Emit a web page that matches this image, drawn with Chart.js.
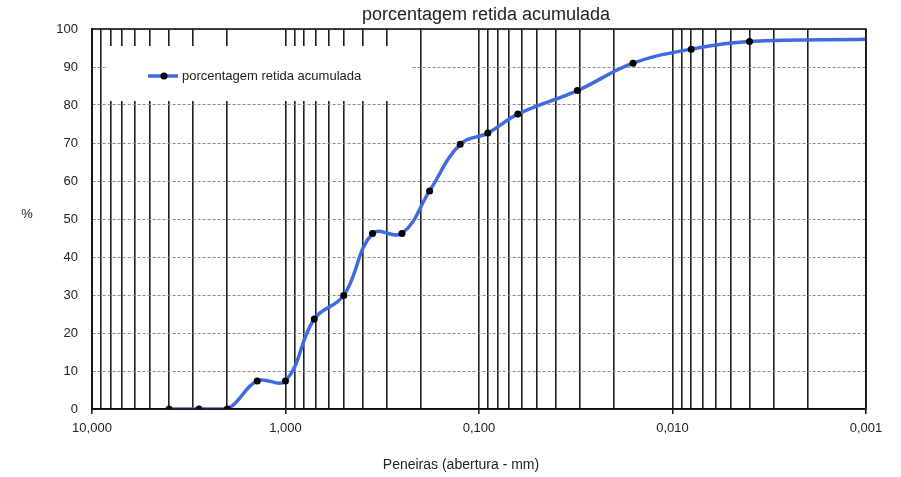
<!DOCTYPE html>
<html>
<head>
<meta charset="utf-8">
<script src="https://cdn.jsdelivr.net/npm/chart.js@4.4.0/dist/chart.umd.min.js"></script>
<style>
  html, body { margin: 0; padding: 0; background: #fff; }
  #wrap { width: 901px; height: 477px; }
</style>
</head>
<body>
<div id="wrap"><canvas id="granChart"></canvas></div>
<script>
const tituloGrafico = 'porcentagem retida acumulada';
const nomeSerie = 'porcentagem retida acumulada';
const tituloX = 'Peneiras (abertura - mm)';
const tituloY = '%';

// abertura das peneiras (mm) x porcentagem retida acumulada
const aberturas = [4.0, 2.8, 2.0, 1.4, 1.0, 0.71, 0.5, 0.355, 0.25, 0.18, 0.125, 0.09, 0.063, 0.031, 0.016, 0.008, 0.004, 0.001];
const retidaAcum = [0, 0, 0, 7.4, 7.4, 23.7, 29.9, 46.2, 46.2, 57.4, 69.7, 72.6, 77.6, 83.8, 91.0, 94.7, 96.7, 97.3];

// eixo x logaritmico
const decadas = [10, 1, 0.1, 0.01, 0.001];
const rotulosDecadas = ['10,000', '1,000', '0,100', '0,010', '0,001'];
const multiplicadores = [1, 2, 3, 4, 5, 6, 7, 8, 9];

const fonte = "'Liberation Sans', Arial, sans-serif";
const corTexto = '#222';
const azul = '#4169e1';

function ehDecada(v) {
  const l = Math.log10(v);
  return Math.abs(l - Math.round(l)) < 1e-6;
}

function rotuloDe(v) {
  for (let i = 0; i < decadas.length; i++) {
    if (Math.abs(decadas[i] - v) < v * 1e-6) return rotulosDecadas[i];
  }
  return '';
}

//-------------- textos e legenda ----------------
const decoracao = {
  id: 'decoracao',
  beforeDatasetsDraw(chart) {
    const ctx = chart.ctx;
    const a = chart.chartArea;
    ctx.save();
    // caixa da legenda
    ctx.fillStyle = '#fff';
    ctx.fillRect(a.left + 16, a.top + 17, 304, 55);
    const ly = a.top + 47;
    ctx.strokeStyle = azul;
    ctx.lineWidth = 3.5;
    ctx.beginPath();
    ctx.moveTo(a.left + 56, ly);
    ctx.lineTo(a.left + 86, ly);
    ctx.stroke();
    ctx.fillStyle = '#000';
    ctx.beginPath();
    ctx.arc(a.left + 72, ly, 3.5, 0, Math.PI * 2);
    ctx.fill();
    ctx.fillStyle = corTexto;
    ctx.font = '13px ' + fonte;
    ctx.textAlign = 'left';
    ctx.textBaseline = 'middle';
    ctx.fillText(nomeSerie, a.left + 90, ly);
    ctx.restore();
  },
  afterDatasetsDraw(chart) {
    const ctx = chart.ctx;
    const a = chart.chartArea;
    ctx.save();
    ctx.strokeStyle = '#111';
    ctx.lineWidth = 1.6;
    ctx.setLineDash([]);
    ctx.strokeRect(a.left, a.top, a.right - a.left, a.bottom - a.top);
    ctx.restore();
  },
  afterDraw(chart) {
    const ctx = chart.ctx;
    const a = chart.chartArea;
    ctx.save();
    ctx.fillStyle = corTexto;
    ctx.textAlign = 'center';
    ctx.textBaseline = 'middle';
    ctx.font = '18px ' + fonte;
    ctx.fillText(tituloGrafico, (a.left + a.right) / 2 + 7, 15);
    ctx.font = '14px ' + fonte;
    ctx.fillText(tituloX, (a.left + a.right) / 2 - 18, a.bottom + 56);
    ctx.font = '13px ' + fonte;
    ctx.fillText(tituloY, 27, 214);
    ctx.restore();
  }
};

new Chart(document.getElementById('granChart'), {
  type: 'line',
  data: {
    datasets: [{
      label: nomeSerie,
      data: aberturas.map((x, i) => ({ x: x, y: retidaAcum[i] })),
      borderColor: azul,
      backgroundColor: '#000',
      borderWidth: 3.5,
      pointRadius: ctx => ctx.dataIndex === aberturas.length - 1 ? 0 : 3.5,
      pointBackgroundColor: '#000',
      pointBorderColor: '#000',
      pointBorderWidth: 0,
      tension: 0.4,
      fill: false
    }]
  },
  options: {
    responsive: true,
    maintainAspectRatio: false,
    animation: false,
    layout: { padding: { top: 29, right: 35, left: 0, bottom: 0 } },
    plugins: {
      legend: { display: false },
      title: { display: false },
      tooltip: { enabled: false }
    },
    scales: {
      x: {
        type: 'logarithmic',
        reverse: true,
        min: 0.001,
        max: 10,
        afterBuildTicks: scale => {
          const t = [];
          decadas.slice(1).forEach(d => {
            multiplicadores.forEach(m => t.push({ value: d * m }));
          });
          t.push({ value: 10 });
          scale.ticks = t;
        },
        afterFit: scale => { scale.height = 68; },
        grid: {
          color: '#1e1e1e',
          lineWidth: 1.6,
          tickLength: 5,
          tickColor: ctx => (ctx.tick && ehDecada(ctx.tick.value)) ? '#1e1e1e' : 'rgba(0,0,0,0)'
        },
        border: { color: '#111', width: 1.6 },
        ticks: {
          autoSkip: false,
          maxRotation: 0,
          padding: 7,
          color: corTexto,
          font: { family: fonte, size: 13 },
          callback: v => ehDecada(v) ? rotuloDe(v) : ''
        }
      },
      y: {
        min: 0,
        max: 100,
        afterFit: scale => { scale.width = 92; },
        grid: {
          color: '#8c8c8c',
          lineWidth: 1,
          drawTicks: false
        },
        border: { color: '#111', width: 1.6, dash: [3, 2] },
        ticks: {
          stepSize: 10,
          padding: 14,
          color: corTexto,
          font: { family: fonte, size: 13 }
        }
      }
    }
  },
  plugins: [decoracao]
});
</script>
</body>
</html>
